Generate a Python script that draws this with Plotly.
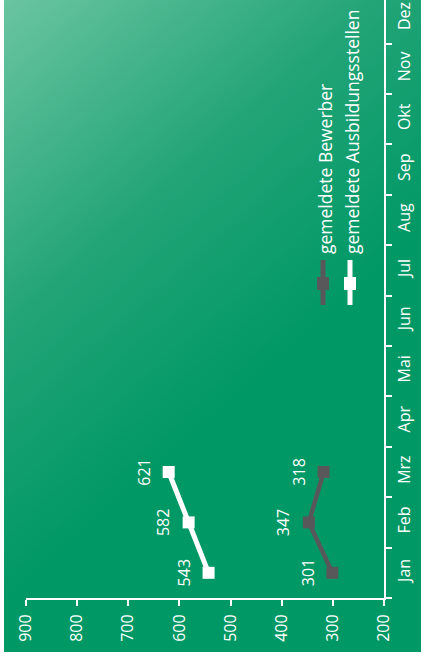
import plotly.graph_objects as go
import urllib.parse

months = ["Jan", "Feb", "Mrz", "Apr", "Mai", "Jun", "Jul", "Aug", "Sep", "Okt", "Nov", "Dez"]
data_months = ["Jan", "Feb", "Mrz"]
bewerber = [301, 347, 318]
stellen = [543, 582, 621]
value_ticks = [200, 300, 400, 500, 600, 700, 800, 900]
series_names = ["gemeldete Bewerber", "gemeldete Ausbildungsstellen"]

GRAY = "#58585a"
WHITE = "#ffffff"
FONT = "Open Sans"

W, H = 424, 659
ml, mr, mt, mb = 26, 40, 0, 61
pw, ph = W - ml - mr, H - mt - mb


def px_to_paper_x(px):
    return (px - ml) / pw


def px_to_paper_y(py):
    return (H - mb - py) / ph


# gradient background (green box) as svg image
bx0, by0, bx1, by1 = 4, 0, 421, 652
svg = (
    f'<svg xmlns="http://www.w3.org/2000/svg" width="{bx1-bx0}" height="{by1-by0}" '
    f'viewBox="0 0 {bx1-bx0} {by1-by0}" preserveAspectRatio="none">'
    '<defs><linearGradient id="g" gradientUnits="userSpaceOnUse" x1="0" y1="0" x2="300" y2="340">'
    '<stop offset="0" stop-color="#6ac5a1"/>'
    '<stop offset="0.55" stop-color="#22a477"/>'
    '<stop offset="1" stop-color="#009865"/>'
    '</linearGradient></defs>'
    f'<rect x="0" y="0" width="{bx1-bx0}" height="{by1-by0}" fill="url(#g)"/></svg>'
)
src = "data:image/svg+xml;charset=utf-8," + urllib.parse.quote(svg)

fig = go.Figure()

fig.add_trace(go.Scatter(
    x=bewerber, y=data_months, mode="lines+markers", name=series_names[0],
    line=dict(color=GRAY, width=4.5),
    marker=dict(symbol="square", size=12, color=GRAY),
    showlegend=False, hoverinfo="skip",
))
fig.add_trace(go.Scatter(
    x=stellen, y=data_months, mode="lines+markers", name=series_names[1],
    line=dict(color=WHITE, width=5),
    marker=dict(symbol="square", size=12, color=WHITE),
    showlegend=False, hoverinfo="skip",
))

annotations = []
for series in (bewerber, stellen):
    for m, v in zip(data_months, series):
        annotations.append(dict(
            x=v, y=m, xref="x", yref="y", text=str(v), showarrow=False,
            textangle=-90, xshift=-25, font=dict(family=FONT, size=16, color=WHITE),
        ))

# manual rotated legend
shapes = []
legend_cols = [(323, GRAY, series_names[0]), (350, WHITE, series_names[1])]
for cx, col, name in legend_cols:
    shapes.append(dict(
        type="line", xref="paper", yref="paper",
        x0=px_to_paper_x(cx), x1=px_to_paper_x(cx),
        y0=px_to_paper_y(260), y1=px_to_paper_y(305),
        line=dict(color=col, width=5),
    ))
    shapes.append(dict(
        type="rect", xref="paper", yref="paper",
        x0=px_to_paper_x(cx - 6), x1=px_to_paper_x(cx + 6),
        y0=px_to_paper_y(277), y1=px_to_paper_y(290),
        fillcolor=col, line=dict(width=0),
    ))
    annotations.append(dict(
        x=px_to_paper_x(cx + 2), y=px_to_paper_y(256), xref="paper", yref="paper",
        xanchor="center", yanchor="bottom", text=name, showarrow=False,
        textangle=-90, font=dict(family=FONT, size=17.5, color=WHITE),
    ))

fig.update_layout(
    width=W, height=H,
    margin=dict(l=ml, r=mr, t=mt, b=mb, pad=0),
    paper_bgcolor="white", plot_bgcolor="rgba(0,0,0,0)",
    font=dict(family=FONT, size=16, color=WHITE),
    showlegend=False,
    images=[dict(
        source=src, xref="paper", yref="paper",
        x=px_to_paper_x(bx0), y=px_to_paper_y(by0),
        sizex=(bx1 - bx0) / pw, sizey=(by1 - by0) / ph,
        sizing="stretch", xanchor="left", yanchor="top", layer="below",
    )],
    xaxis=dict(
        range=[900, 200], tickvals=value_ticks, tickangle=-90,
        showgrid=False, zeroline=False, showline=True, linecolor=WHITE, linewidth=2,
        ticks="outside", ticklen=6, tickwidth=2, tickcolor=WHITE, ticklabelstandoff=2,
        tickfont=dict(family=FONT, size=16, color=WHITE),
    ),
    yaxis=dict(
        type="category", categoryorder="array", categoryarray=months,
        range=[-0.5, 11.365], side="right", tickangle=-90, tickson="boundaries",
        showgrid=False, zeroline=False, showline=True, linecolor=WHITE, linewidth=2,
        ticks="outside", ticklen=6, tickwidth=2, tickcolor=WHITE, ticklabelstandoff=5,
        tickfont=dict(family=FONT, size=16, color=WHITE),
    ),
    annotations=annotations, shapes=shapes,
)

fig.write_html("out.html")
